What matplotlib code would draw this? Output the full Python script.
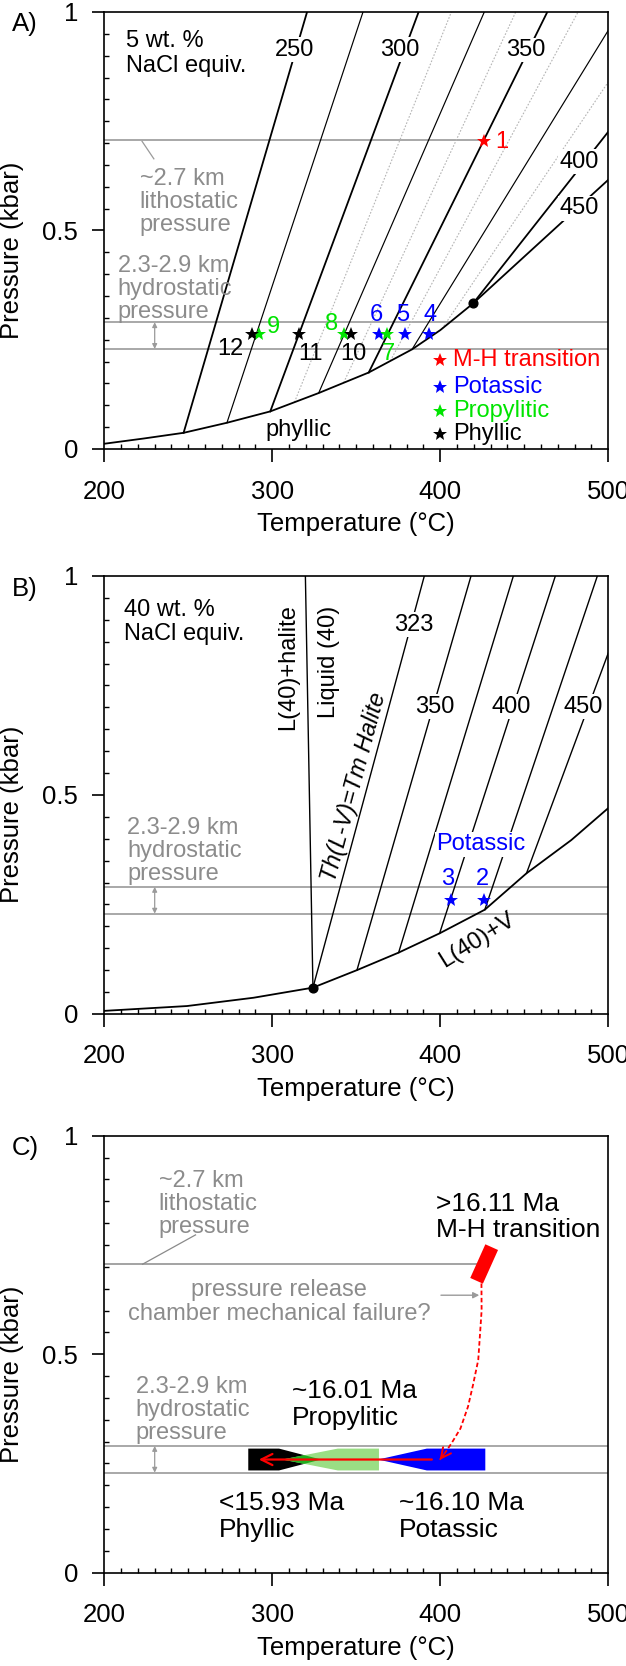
import matplotlib
matplotlib.use('Agg')
import matplotlib.pyplot as plt
from matplotlib.ticker import MultipleLocator
from matplotlib.patches import Polygon

plt.rcParams['font.family'] = ['Liberation Sans', 'DejaVu Sans']

GRAY_TXT = '#8c8c8c'
GRAY_LN = '#9a9a9a'
GREEN = '#00e400'

# ---------- panel A: 5 wt.% NaCl ----------
lv5_T = [200, 223.5, 247.2, 273, 298.8, 327.6, 357.4, 383.2, 400, 419.5]
lv5_P = [0.012, 0.024, 0.037, 0.060, 0.086, 0.128, 0.175, 0.228, 0.272, 0.333]
crit5 = (419.5, 0.333)

# isochores: start on L-V curve, end at frame
iso5_T0 = [247.2, 273, 298.8, 327.6, 357.4, 383.2, 419.5, 419.5]
iso5_P0 = [0.037, 0.060, 0.086, 0.128, 0.175, 0.228, 0.333, 0.333]
iso5_T1 = [320.7, 354, 387.1, 426.2, 463.7, 500, 500, 500]
iso5_P1 = [1.0, 1.0, 1.0, 1.0, 1.0, 0.958, 0.726, 0.616]
iso5_bold = [True, False, True, False, True, False, True, True]

# dotted intermediate isochores
dot5_T0 = [313.2, 342.5, 370.3, 401.0]
dot5_P0 = [0.107, 0.152, 0.202, 0.275]
dot5_T1 = [406.6, 444.9, 482.0, 500]
dot5_P1 = [1.0, 1.0, 1.0, 0.84]

iso5_lab = ['250', '300', '350', '400', '450']
iso5_lab_T = [313.1, 375.8, 450.6, 482.7, 482.7]
iso5_lab_P = [0.914, 0.914, 0.913, 0.657, 0.551]

starA_lab = ['1', '4', '5', '6', '7', '8', '9', '10', '11', '12']
starA_T = [425.8, 393.5, 379.2, 363.7, 368.5, 342.8, 292.3, 347.1, 316.1, 288.1]
starA_P = [0.705, 0.262, 0.262, 0.262, 0.262, 0.262, 0.262, 0.262, 0.262, 0.262]
starA_col = ['red', 'blue', 'blue', 'blue', GREEN, GREEN, GREEN, 'black', 'black', 'black']
starA_lab_T = [436.7, 394.0, 377.8, 361.9, 369.3, 335.5, 300.8, 348.4, 323.0, 275.0]
starA_lab_P = [0.703, 0.307, 0.307, 0.307, 0.218, 0.287, 0.279, 0.218, 0.218, 0.228]

leg_lab = ['M-H transition', 'Potassic', 'Propylitic', 'Phyllic']
leg_col = ['red', 'blue', GREEN, 'black']
leg_P = [0.203, 0.142, 0.088, 0.035]

litho_P = 0.707
hydro_P = [0.290, 0.229]

# ---------- panel B: 40 wt.% NaCl ----------
lv40_T = [200, 249.2, 288.9, 324.2, 350.4, 375.2, 399.6, 426.5, 451.3, 478, 500]
lv40_P = [0.007, 0.018, 0.037, 0.060, 0.100, 0.140, 0.184, 0.238, 0.321, 0.397, 0.470]
halite_T = [319.7, 324.2]
halite_P = [1.0, 0.060]
iso40_T0 = [324.2, 350.4, 375.2, 399.6, 426.5, 451.3]
iso40_P0 = [0.060, 0.100, 0.140, 0.184, 0.238, 0.321]
iso40_T1 = [390.5, 418.3, 443.5, 468.5, 493.5, 500]
iso40_P1 = [1.0, 1.0, 1.0, 1.0, 1.0, 0.824]
iso40_lab = ['323', '350', '400', '450']
iso40_lab_T = [384.0, 396.5, 442.5, 485.0]
iso40_lab_P = [0.889, 0.701, 0.701, 0.701]

starB_lab = ['3', '2']
starB_T = [406.1, 426.3]
starB_P = [0.260, 0.260]

# ---------- panel C: evolution ----------
mh_T = [430.6, 421.6]
mh_P = [0.745, 0.668]
rel_T = [424.5, 424.6, 422.6, 419.5, 416.5, 412.0, 406.5, 402.0, 399.6]
rel_P = [0.662, 0.600, 0.487, 0.430, 0.380, 0.330, 0.295, 0.270, 0.258]
bar_P, bar_h = 0.259, 0.025
phy_T = [285.7, 304.0, 329.0]    # left end, start of taper, tip
prop_T = [306.0, 339.0, 363.5]   # tip, full width, right end
pot_T = [363.0, 392.0, 426.8]    # tip, full width, right end
trend_T = [395.0, 292.0]


def style(ax):
    ax.set_xlim(200, 500)
    ax.set_ylim(0, 1)
    ax.set_xticks([200, 300, 400, 500])
    ax.set_yticks([0, 0.5, 1])
    ax.set_yticklabels(['0', '0.5', '1'])
    ax.xaxis.set_minor_locator(MultipleLocator(10))
    ax.yaxis.set_minor_locator(MultipleLocator(0.05))
    ax.tick_params(which='major', direction='out', length=9, width=1.2, labelsize=18.5)
    ax.tick_params(which='minor', direction='in', length=3.5, width=1.0)
    ax.tick_params(axis='x', which='major', pad=13)
    ax.tick_params(axis='y', which='major', pad=10)
    for s in ax.spines.values():
        s.set_linewidth(1.2)
    ax.set_xlabel('Temperature (°C)', fontsize=18.5, labelpad=6)
    ax.set_ylabel('Pressure (kbar)', fontsize=18.5)
    ax.yaxis.set_label_coords(-0.159, 0.455)


def hydro(ax, tx, ty):
    for p in hydro_P:
        ax.axhline(p, color=GRAY_LN, lw=1.2, zorder=1)
    ax.annotate('', xy=(230, hydro_P[0]), xytext=(230, hydro_P[1]),
                arrowprops=dict(arrowstyle='<|-|>', color=GRAY_LN, lw=0.9,
                                mutation_scale=7, shrinkA=0, shrinkB=0))
    ax.text(tx, ty, '2.3-2.9 km\nhydrostatic\npressure', color=GRAY_TXT,
            fontsize=17, ha='left', va='top', linespacing=1.06)


fig = plt.figure(figsize=(6.26, 16.66), dpi=100)
axA = fig.add_axes([0.1666, 0.7305, 0.8051, 0.2623])
axB = fig.add_axes([0.1666, 0.3914, 0.8051, 0.2629])
axC = fig.add_axes([0.1666, 0.0560, 0.8051, 0.2623])

# ===== A =====
ax = axA
style(ax)
ax.plot(lv5_T, lv5_P, color='k', lw=1.3, zorder=3)
for t0, p0, t1, p1, b in zip(iso5_T0, iso5_P0, iso5_T1, iso5_P1, iso5_bold):
    ax.plot([t0, t1], [p0, p1], color='k', lw=1.3 if b else 0.85, zorder=3)
for t0, p0, t1, p1 in zip(dot5_T0, dot5_P0, dot5_T1, dot5_P1):
    ax.plot([t0, t1], [p0, p1], color='#b4b4b4', lw=0.8, ls=(0, (1.5, 1.5)), zorder=2)
ax.plot(*crit5, 'o', color='k', ms=6.3, zorder=4)
for s, t, p in zip(iso5_lab, iso5_lab_T, iso5_lab_P):
    ax.text(t, p, s, fontsize=17, ha='center', va='center', zorder=5,
            bbox=dict(facecolor='white', edgecolor='none', pad=1))
ax.plot([200, starA_T[0]], [litho_P, litho_P], color=GRAY_LN, lw=1.2, zorder=1)
ax.plot([222.5, 229.5], [0.704, 0.664], color=GRAY_LN, lw=0.9)
ax.text(221, 0.643, '~2.7 km\nlithostatic\npressure', color=GRAY_TXT, fontsize=17,
        ha='left', va='top', linespacing=1.06)
hydro(ax, 208, 0.443)
ax.text(213, 0.958, '5 wt. %\nNaCl equiv.', fontsize=17, ha='left', va='top', linespacing=1.13)
ax.text(315.7, 0.043, 'phyllic', fontsize=17, ha='center', va='center')
for s, t, p, c, lt, lp in zip(starA_lab, starA_T, starA_P, starA_col, starA_lab_T, starA_lab_P):
    ax.plot(t, p, '*', color=c, ms=10.5, mew=0, zorder=6)
    ax.text(lt, lp, s, color=c, fontsize=17, ha='center', va='center', zorder=6)
for s, c, p in zip(leg_lab, leg_col, leg_P):
    ax.plot(399.6, p, '*', color=c, ms=10.5, mew=0, zorder=6)
    ax.text(407.5, p, s, color=c, fontsize=17, ha='left', va='center', zorder=6)

# ===== B =====
ax = axB
style(ax)
ax.plot(lv40_T, lv40_P, color='k', lw=1.3, zorder=3)
ax.plot(halite_T, halite_P, color='k', lw=1.0, zorder=3)
for t0, p0, t1, p1 in zip(iso40_T0, iso40_P0, iso40_T1, iso40_P1):
    ax.plot([t0, t1], [p0, p1], color='k', lw=1.0, zorder=3)
ax.plot(halite_T[1], halite_P[1], 'o', color='k', ms=6.3, zorder=4)
for s, t, p in zip(iso40_lab, iso40_lab_T, iso40_lab_P):
    ax.text(t, p, s, fontsize=17, ha='center', va='center', zorder=5,
            bbox=dict(facecolor='white', edgecolor='none', pad=1))
hydro(ax, 213.5, 0.450)
ax.text(212, 0.948, '40 wt. %\nNaCl equiv.', fontsize=17, ha='left', va='top', linespacing=1.13)
ax.text(309.4, 0.792, 'L(40)+halite', fontsize=17, rotation=90, ha='center', va='center')
ax.text(333.7, 0.804, 'Liquid (40)', fontsize=17, rotation=90, ha='center', va='center')
ax.text(348.4, 0.519, 'Th(L-V)=Tm Halite', fontsize=17, style='italic', rotation=75,
        rotation_mode='anchor', ha='center', va='center')
ax.text(422.0, 0.169, 'L(40)+V', fontsize=17, rotation=32, rotation_mode='anchor',
        ha='center', va='center')
ax.text(397.6, 0.387, 'Potassic', color='blue', fontsize=17, ha='left', va='center', zorder=5,
        bbox=dict(facecolor='white', edgecolor='none', pad=1))
for s, t, p in zip(starB_lab, starB_T, starB_P):
    ax.plot(t, p, '*', color='blue', ms=10.5, mew=0, zorder=6)
    ax.text(t - 1.5, p + 0.047, s, color='blue', fontsize=17, ha='center', va='center', zorder=6)

# ===== C =====
ax = axC
style(ax)
ax.plot([200, mh_T[1]], [litho_P - 0.001, litho_P - 0.001], color='#8a8a8a', lw=1.1, zorder=1)
ax.plot([222.8, 254.3], [0.706, 0.773], color='#8a8a8a', lw=0.9)
ax.text(232.4, 0.9215, '~2.7 km\nlithostatic\npressure', color=GRAY_TXT, fontsize=17,
        ha='left', va='top', linespacing=1.06)
hydro(ax, 218.6, 0.450)
ax.text(304, 0.671, 'pressure release\nchamber mechanical failure?', color=GRAY_TXT,
        fontsize=17, ha='center', va='top', linespacing=1.06)
ax.annotate('', xy=(423.2, 0.635), xytext=(400.4, 0.635),
            arrowprops=dict(arrowstyle='-|>', color=GRAY_LN, lw=1.0, mutation_scale=9,
                            shrinkA=0, shrinkB=0))
ax.plot(mh_T, mh_P, color='red', lw=10, solid_capstyle='butt', zorder=4)
ax.plot(rel_T, rel_P, color='red', lw=1.3, ls=(0, (2.5, 1.5)), zorder=4)
ax.annotate('', xy=(rel_T[-1], rel_P[-1]), xytext=(rel_T[-2], rel_P[-2]),
            arrowprops=dict(arrowstyle='->', color='red', lw=1.4, mutation_scale=18,
                            shrinkA=0, shrinkB=0), zorder=6)

top, bot = bar_P + bar_h, bar_P - bar_h
black = Polygon([(phy_T[0], top), (phy_T[1], top), (phy_T[2], bar_P), (phy_T[1], bot), (phy_T[0], bot)],
                closed=True, facecolor='black', edgecolor='none', zorder=3)
ax.add_patch(black)
gverts = [(prop_T[0], bar_P), (prop_T[1], top), (prop_T[2], top), (prop_T[2], bot), (prop_T[1], bot)]
ax.add_patch(Polygon(gverts, closed=True, facecolor='#9ade84', edgecolor='none', zorder=3))
overlap = Polygon(gverts, closed=True, facecolor='#1fae1f', edgecolor='none', zorder=3.5)
ax.add_patch(overlap)
overlap.set_clip_path(black)
ax.add_patch(Polygon([(pot_T[0], bar_P), (pot_T[1], top), (pot_T[2], top), (pot_T[2], bot), (pot_T[1], bot)],
                     closed=True, facecolor='#0000ff', edgecolor='none', zorder=3))
ax.annotate('', xy=(trend_T[1], bar_P), xytext=(trend_T[0], bar_P),
            arrowprops=dict(arrowstyle='->', color='red', lw=1.6, mutation_scale=20,
                            shrinkA=0, shrinkB=0), zorder=6)

ax.text(397.5, 0.872, '>16.11 Ma\nM-H transition', fontsize=19, ha='left', va='top', linespacing=1.15)
ax.text(311.9, 0.444, '~16.01 Ma\nPropylitic', fontsize=19, ha='left', va='top', linespacing=1.15)
ax.text(268.5, 0.187, '<15.93 Ma\nPhyllic', fontsize=19, ha='left', va='top', linespacing=1.15)
ax.text(375.6, 0.187, '~16.10 Ma\nPotassic', fontsize=19, ha='left', va='top', linespacing=1.15)

# panel letters
for lab, ytop in zip(['A)', 'B)', 'C)'], [12, 577, 1136]):
    fig.text(11.5 / 626, 1 - ytop / 1666, lab, fontsize=18.5, ha='left', va='top')

fig.savefig('out.png', dpi=100)
